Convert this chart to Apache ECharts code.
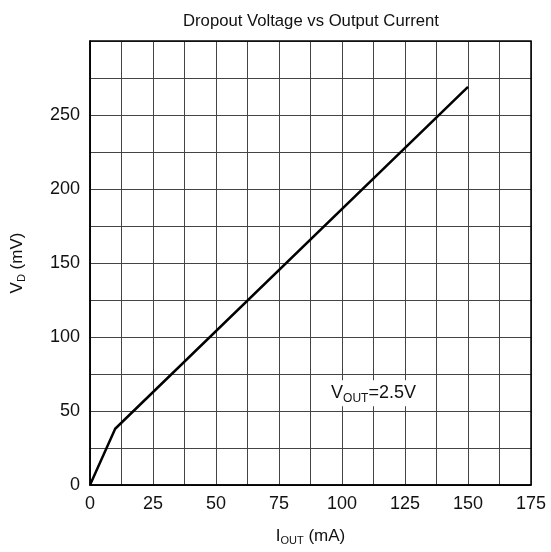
<!DOCTYPE html>
<html><head><meta charset="utf-8">
<script src="https://cdn.jsdelivr.net/npm/echarts@6/dist/echarts.min.js"></script>
<style>html,body{margin:0;padding:0;background:#fff}#c{width:551px;height:552px}</style>
</head><body><div id="c"></div>
<script>
const titleText = 'Dropout Voltage vs Output Current';
const xTicks = [0, 25, 50, 75, 100, 125, 150, 175];
const yTicks = [0, 50, 100, 150, 200, 250];
const currentMA = [0, 10, 150];
const dropoutMV = [0, 38, 269];
const noteX = 112.5;
const noteY = 62;

const chart = echarts.init(document.getElementById('c'));
const FONT = 'Liberation Sans, Arial, sans-serif';
const richName = {
  m: { fontFamily: FONT, fontSize: 17, color: '#111', lineHeight: 20 },
  s: { fontFamily: FONT, fontSize: 11, color: '#111', lineHeight: 10, verticalAlign: 'bottom' } };
chart.setOption({
  animation: false,
  title: { text: titleText, left: 306, textAlign: 'center', top: 8,
    textStyle: { fontFamily: FONT, fontSize: 16.7, fontWeight: 'normal', color: '#111' } },
  grid: { left: 90, right: 20, top: 41, bottom: 67 },
  xAxis: {
    type: 'value', min: 0, max: 175, interval: 12.5,
    name: '{m|I}{s|OUT}{m| (mA)}', nameLocation: 'middle', nameGap: 41,
    nameTextStyle: { rich: richName },
    axisLine: { show: true, lineStyle: { color: '#000', width: 1.5 } },
    axisTick: { show: false },
    axisLabel: { fontFamily: FONT, fontSize: 18, color: '#111', margin: 10,
      formatter: v => xTicks.includes(v) ? String(v) : '' },
    splitLine: { show: true, lineStyle: { color: '#444', width: 1 } }
  },
  yAxis: {
    type: 'value', min: 0, max: 300, interval: 25,
    name: '{m|V}{s|D}{m| (mV)}', nameLocation: 'middle', nameGap: 63,
    nameTextStyle: { rich: richName },
    axisLine: { show: true, lineStyle: { color: '#000', width: 1.5 } },
    axisTick: { show: false },
    axisLabel: { fontFamily: FONT, fontSize: 18, color: '#111', margin: 10,
      formatter: v => yTicks.includes(v) ? String(v) : '' },
    splitLine: { show: true, lineStyle: { color: '#444', width: 1 } }
  },
  graphic: [{ type: 'rect', shape: { x: 90, y: 41, width: 441, height: 444 },
    style: { fill: 'none', stroke: '#000', lineWidth: 1.5 }, z: 10 }],
  series: [{
    type: 'line', data: currentMA.map((x, i) => [x, dropoutMV[i]]),
    showSymbol: false, lineStyle: { color: '#000', width: 2.5 },
    markPoint: {
      symbol: 'rect', symbolSize: 0,
      data: [{ coord: [noteX, noteY] }],
      label: { show: true, position: 'inside', backgroundColor: '#fff', padding: [2, 3],
        formatter: '{m|V}{s|OUT}{m|=2.5V}',
        rich: {
          m: { fontFamily: FONT, fontSize: 18, color: '#111', lineHeight: 22 },
          s: { fontFamily: FONT, fontSize: 12, color: '#111', lineHeight: 11, verticalAlign: 'bottom' } } }
    }
  }]
});
</script></body></html>
